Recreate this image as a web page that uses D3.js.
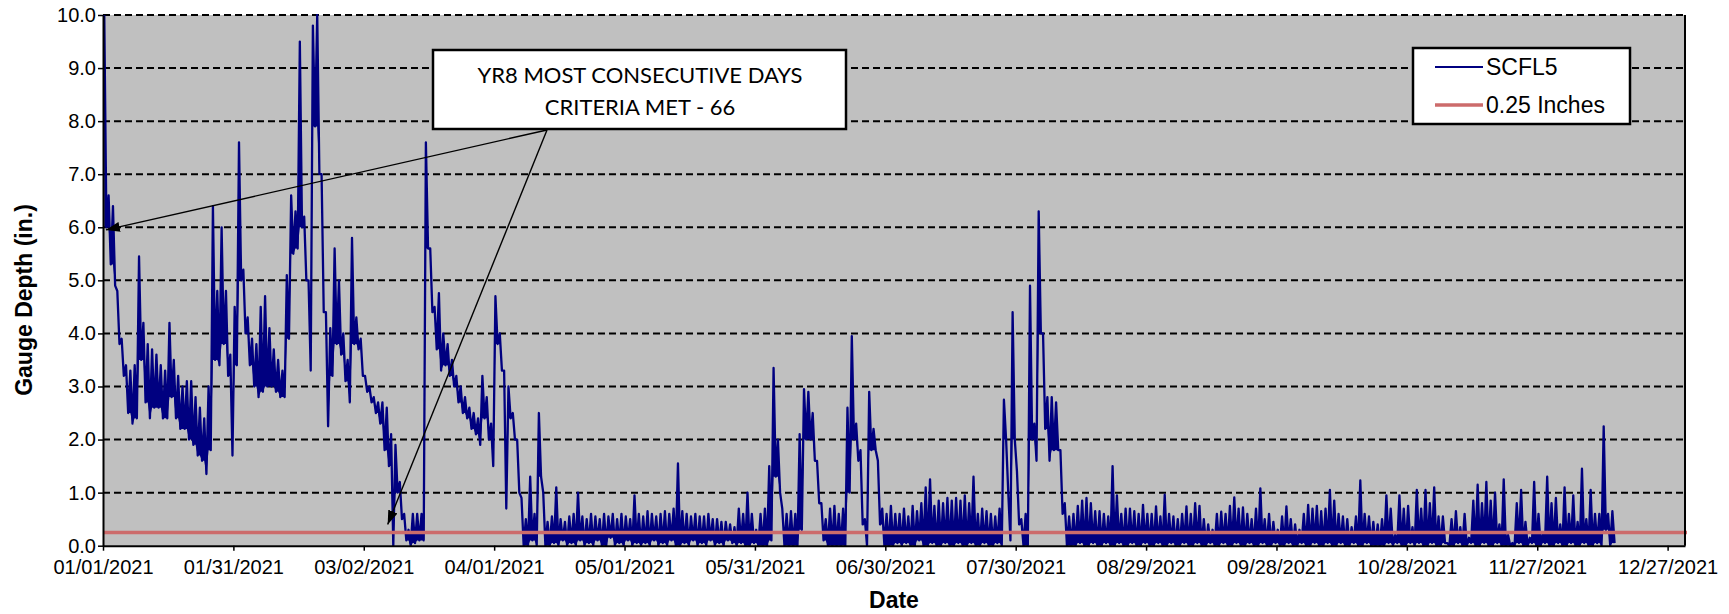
<!DOCTYPE html>
<html>
<head>
<meta charset="utf-8">
<script src="https://cdn.jsdelivr.net/npm/d3@7"></script>
<style>
  body { margin: 0; background: #fff; }
  svg text { font-family: "Liberation Sans", Arial, sans-serif; fill: #000; }
  .axis text { font-size: 20px; }
  .axis line { stroke: #000; stroke-width: 1.5; }
  .axis path { stroke: #000; stroke-width: 2; }
  .grid line { stroke: #000; stroke-width: 2; stroke-dasharray: 7,4; }
  .title { font-size: 23px; font-weight: bold; }
  .callout text { font-family: Lato, "Open Sans", sans-serif; font-size: 22px; }
  .legend text { font-size: 23px; }
</style>
</head>
<body>
<script>
//Chart values
var startDate = "01/01/2021";
var endDate = "12/31/2021";
var xTickLabels = ["01/01/2021", "01/31/2021", "03/02/2021", "04/01/2021", "05/01/2021",
  "05/31/2021", "06/30/2021", "07/30/2021", "08/29/2021", "09/28/2021",
  "10/28/2021", "11/27/2021", "12/27/2021"];
var yTicks = [0, 1, 2, 3, 4, 5, 6, 7, 8, 9, 10];
var seriesNames = ["SCFL5", "0.25 Inches"];
var threshold = 0.25;

//Daily high / low gauge depth (in.), one entry per day from 01/01/2021
var dayHigh = [
  10.0, 6.6, 6.4, 4.8, 3.9, 3.4, 3.3, 3.4, 5.45, 4.2,
  3.8, 3.7, 3.6, 3.4, 3.3, 4.2, 3.5, 3.2, 3.0, 3.1,
  3.1, 2.8, 2.6, 2.4, 3.0, 6.4, 4.8, 6.0, 4.8, 3.6,
  4.5, 7.6, 5.2, 4.3, 3.9, 3.8, 4.5, 4.7, 4.1, 3.7,
  3.5, 3.3, 5.1, 6.6, 6.3, 9.5, 6.2, 5.0, 9.8, 10.0,
  7.0, 4.4, 4.1, 5.6, 5.0, 4.0, 3.5, 5.8, 4.3, 3.9,
  3.2, 3.0, 2.8, 2.7, 2.7, 2.6, 2.1, 1.9, 1.2, 0.6,
  0.3, 0.6, 0.6, 0.6, 7.6, 5.6, 4.5, 4.76, 4.0, 3.8,
  3.5, 3.2, 3.0, 2.8, 2.6, 2.5, 2.4, 3.2, 2.8, 2.3,
  4.7, 4.0, 3.3, 3.0, 2.5, 2.0, 0.9, 0.5, 1.3, 0.6,
  2.5, 1.0, 0.45, 0.55, 1.1, 0.5, 0.45, 0.55, 0.6, 1.0,
  0.55, 0.5, 0.6, 0.55, 0.5, 0.6, 0.55, 0.6, 0.5, 0.6,
  0.55, 0.5, 0.95, 0.6, 0.55, 0.65, 0.6, 0.55, 0.6, 0.65,
  0.6, 0.7, 1.55, 0.65, 0.6, 0.55, 0.6, 0.55, 0.55, 0.6,
  0.5, 0.5, 0.45, 0.45, 0.4, 0.35, 0.7, 0.6, 1.0, 0.6,
  0.3, 0.6, 0.7, 1.5, 3.35, 2.0, 0.7, 0.6, 0.65, 0.6,
  2.1, 2.95, 2.9, 2.5, 1.6, 0.8, 0.5, 0.7, 0.75, 0.6,
  0.7, 2.6, 3.95, 2.3, 1.8, 0.5, 2.9, 2.2, 1.6, 0.7,
  0.6, 0.75, 0.6, 0.6, 0.7, 0.55, 0.75, 0.65, 0.8, 1.1,
  1.25, 0.75, 0.85, 0.8, 0.9, 0.85, 0.9, 0.85, 0.95, 0.8,
  1.3, 0.6, 0.7, 0.65, 0.6, 0.55, 0.7, 2.75, 1.0, 4.4,
  1.4, 0.5, 0.6, 4.9, 2.3, 6.3, 4.0, 2.8, 2.8, 2.7,
  1.8, 0.8, 0.55, 0.6, 0.75, 0.85, 0.9, 0.8, 0.65, 0.65,
  0.6, 0.55, 1.5, 0.95, 0.6, 0.7, 0.7, 0.65, 0.6, 0.77,
  0.6, 0.6, 0.74, 0.55, 0.96, 0.6, 0.55, 0.5, 0.6, 0.74,
  0.6, 0.8, 0.75, 0.5, 0.4, 0.3, 0.6, 0.64, 0.6, 0.75,
  0.91, 0.7, 0.72, 0.6, 0.5, 0.7, 1.08, 0.5, 0.6, 0.45,
  0.3, 0.55, 0.74, 0.5, 0.4, 0.3, 0.6, 0.77, 0.7, 0.75,
  0.65, 0.7, 1.05, 0.85, 0.6, 0.55, 0.5, 0.35, 0.55, 1.23,
  0.6, 0.55, 0.45, 0.4, 0.5, 0.95, 0.7, 0.2, 0.95, 0.7,
  0.75, 0.35, 1.05, 0.7, 1.05, 0.8, 1.1, 0.55, 0.55, 0.05,
  0.5, 0.65, 0.35, 0.6, 0.15, 0.85, 1.15, 0.8, 1.2, 0.85,
  1.0, 0.4, 1.25, 0.2, 0.05, 0.8, 1.05, 0.45, 0.15, 1.2,
  0.6, 0.25, 1.3, 0.8, 0.9, 0.4, 1.1, 0.6, 0.95, 0.45,
  1.45, 0.5, 1.05, 0.6, 0.6, 2.25, 0.6, 0.65
];
var dayLow = [
  6.0, 5.3, 4.9, 3.8, 3.2, 2.5, 2.3, 2.4, 3.5, 2.7,
  2.4, 2.6, 2.6, 2.4, 2.4, 2.8, 2.4, 2.2, 2.2, 2.0,
  1.9, 1.7, 1.6, 1.35, 1.8, 3.5, 3.4, 3.8, 3.2, 1.7,
  3.4, 5.0, 4.0, 3.4, 3.0, 2.8, 2.9, 3.0, 3.0, 2.9,
  2.8, 2.8, 3.9, 5.5, 5.6, 6.0, 5.0, 3.3, 7.9, 7.0,
  4.4, 2.25, 3.2, 3.8, 3.6, 3.1, 2.7, 3.8, 3.7, 3.2,
  2.9, 2.7, 2.5, 2.3, 1.8, 1.5, 0.0, 1.0, 0.5, 0.1,
  0.0, 0.05, 0.1, 0.1, 5.6, 4.4, 3.7, 3.3, 3.4, 3.2,
  3.0, 2.7, 2.5, 2.4, 2.2, 2.1, 1.9, 2.4, 2.0, 1.5,
  3.8, 3.3, 0.7, 2.4, 2.0, 1.0, 0.0, 0.0, 0.1, 0.0,
  1.3, 0.0, 0.0, 0.05, 0.0, 0.1, 0.0, 0.05, 0.0, 0.1,
  0.0, 0.05, 0.0, 0.1, 0.0, 0.0, 0.15, 0.0, 0.05, 0.0,
  0.1, 0.0, 0.05, 0.0, 0.05, 0.0, 0.1, 0.0, 0.05, 0.0,
  0.1, 0.0, 0.0, 0.05, 0.0, 0.1, 0.0, 0.05, 0.0, 0.1,
  0.0, 0.05, 0.0, 0.1, 0.05, 0.0, 0.05, 0.0, 0.0, 0.05,
  0.0, 0.0, 0.0, 0.1, 1.3, 1.0, 0.0, 0.0, 0.0, 0.0,
  0.3, 2.0, 2.0, 1.6, 0.8, 0.1, 0.0, 0.0, 0.0, 0.0,
  0.0, 1.0, 2.0, 1.6, 0.4, 0.0, 1.8, 1.8, 0.4, 0.0,
  0.0, 0.0, 0.05, 0.0, 0.05, 0.0, 0.0, 0.1, 0.0, 0.0,
  0.05, 0.0, 0.0, 0.05, 0.0, 0.0, 0.05, 0.0, 0.0, 0.05,
  0.0, 0.0, 0.05, 0.0, 0.0, 0.05, 0.0, 2.0, 0.1, 2.0,
  0.4, 0.0, 0.0, 2.0, 1.6, 4.0, 2.2, 1.6, 1.8, 1.8,
  0.6, 0.0, 0.0, 0.0, 0.05, 0.0, 0.0, 0.05, 0.0, 0.0,
  0.05, 0.0, 0.0, 0.05, 0.0, 0.0, 0.05, 0.0, 0.0, 0.05,
  0.0, 0.0, 0.05, 0.0, 0.0, 0.05, 0.0, 0.0, 0.05, 0.0,
  0.0, 0.05, 0.0, 0.0, 0.05, 0.0, 0.0, 0.05, 0.0, 0.0,
  0.05, 0.0, 0.0, 0.05, 0.0, 0.0, 0.05, 0.0, 0.0, 0.05,
  0.0, 0.0, 0.05, 0.0, 0.0, 0.05, 0.0, 0.0, 0.05, 0.0,
  0.0, 0.05, 0.0, 0.0, 0.05, 0.0, 0.0, 0.05, 0.0, 0.0,
  0.05, 0.0, 0.0, 0.0, 0.0, 0.05, 0.0, 0.05, 0.0, 0.0,
  0.05, 0.0, 0.05, 0.0, 0.0, 0.05, 0.0, 0.0, 0.05, 0.0,
  0.0, 0.05, 0.0, 0.0, 0.05, 0.0, 0.0, 0.05, 0.0, 0.0,
  0.05, 0.0, 0.0, 0.0, 0.0, 0.05, 0.0, 0.0, 0.05, 0.0,
  0.0, 0.05, 0.0, 0.0, 0.05, 0.0, 0.0, 0.05, 0.0, 0.0,
  0.05, 0.0, 0.0, 0.05, 0.0, 0.3, 0.0, 0.05
];

//Callout text and the [day offset, depth] points its arrows point at
var calloutLines = ["YR8 MOST CONSECUTIVE DAYS", "CRITERIA MET - 66"];
var calloutTargets = [[0.7, 5.95], [65.5, 0.4]];

//Setup SVG size vars
var margin = { top: 15, right: 44, bottom: 68.3, left: 103 },
  width = 1729 - margin.left - margin.right,
  height = 614 - margin.top - margin.bottom;

var parseDate = d3.timeParse("%m/%d/%Y");
var start = parseDate(startDate);

var x = d3.scaleTime()
  .domain([start, parseDate(endDate)])
  .range([0, width]);
var y = d3.scaleLinear()
  .domain([0, 10])
  .range([height, 0]);

//Build the readings: each day goes to its high then its low.
//floor = base of the filled swing under each high
var readings = [];
dayHigh.forEach(function(h, i) {
  var prevLow = i > 0 ? dayLow[i - 1] : dayLow[i];
  readings.push({
    date: d3.timeHour.offset(start, i * 24 + 7),
    value: h,
    floor: Math.min(h, Math.max(prevLow, dayLow[i]))
  });
  readings.push({
    date: d3.timeHour.offset(start, i * 24 + 19),
    value: dayLow[i],
    floor: dayLow[i]
  });
});

var svg = d3.select("body")
  .append("svg")
  .attr("width", 1729)
  .attr("height", 614);

var defs = svg.append("defs");
defs.append("clipPath")
  .attr("id", "plotClip")
  .append("rect")
  .attr("x", 0)
  .attr("y", -1)
  .attr("width", width)
  .attr("height", height + 2);

defs.append("marker")
  .attr("id", "arrowHead")
  .attr("viewBox", "0 0 14 10")
  .attr("refX", 14)
  .attr("refY", 5)
  .attr("markerUnits", "userSpaceOnUse")
  .attr("markerWidth", 14)
  .attr("markerHeight", 10)
  .attr("orient", "auto")
  .append("path")
  .attr("d", "M0,0L14,5L0,10z")
  .attr("fill", "#000");

var plot = svg.append("g")
  .attr("transform", "translate(" + margin.left + "," + margin.top + ")");

//Plot background
plot.append("rect")
  .attr("width", width)
  .attr("height", height)
  .attr("fill", "#c0c0c0");

//Dashed gridlines
plot.append("g")
  .attr("class", "grid")
  .selectAll("line")
  .data(yTicks.filter(function(d) { return d > 0; }))
  .enter()
  .append("line")
  .attr("x1", 0)
  .attr("x2", width)
  .attr("y1", function(d) { return y(d); })
  .attr("y2", function(d) { return y(d); });

//Gauge series: filled swings plus the trace itself
var swing = d3.area()
  .x(function(d) { return x(d.date); })
  .y0(function(d) { return y(d.floor); })
  .y1(function(d) { return y(d.value); });

var line = d3.line()
  .x(function(d) { return x(d.date); })
  .y(function(d) { return y(d.value); });

var series = plot.append("g").attr("clip-path", "url(#plotClip)");

series.append("path")
  .datum(readings)
  .attr("fill", "#000080")
  .attr("d", swing);

series.append("path")
  .datum(readings)
  .attr("fill", "none")
  .attr("stroke", "#000080")
  .attr("stroke-width", 2.3)
  .attr("stroke-linejoin", "round")
  .attr("d", line);

//Threshold line
plot.append("line")
  .attr("x1", 0)
  .attr("x2", width + 2)
  .attr("y1", y(threshold))
  .attr("y2", y(threshold))
  .attr("stroke", "#cc6b6b")
  .attr("stroke-width", 3.5);

//Axes
var xAxis = d3.axisBottom(x)
  .tickValues(xTickLabels.map(parseDate))
  .tickFormat(d3.timeFormat("%m/%d/%Y"))
  .tickSizeInner(5)
  .tickSizeOuter(0)
  .tickPadding(9);
var yAxis = d3.axisLeft(y)
  .tickValues(yTicks)
  .tickFormat(d3.format(".1f"))
  .tickSizeInner(5)
  .tickSizeOuter(0)
  .tickPadding(2);

plot.append("g")
  .attr("class", "x axis")
  .attr("transform", "translate(0," + height + ")")
  .call(xAxis);

plot.append("g")
  .attr("class", "y axis")
  .call(yAxis);

//Right frame edge
plot.append("line")
  .attr("x1", width)
  .attr("x2", width)
  .attr("y1", 0)
  .attr("y2", height)
  .attr("stroke", "#000")
  .attr("stroke-width", 2);

//Axis titles
svg.append("text")
  .attr("class", "title")
  .attr("x", margin.left + width / 2)
  .attr("y", 608)
  .style("text-anchor", "middle")
  .text("Date");

svg.append("text")
  .attr("class", "title")
  .attr("transform", "translate(32,300) rotate(-90)")
  .style("text-anchor", "middle")
  .text("Gauge Depth (in.)");

//Callout arrows and box
var callout = svg.append("g").attr("class", "callout");
var anchor = [547, 130];

callout.selectAll("line")
  .data(calloutTargets)
  .enter()
  .append("line")
  .attr("x1", anchor[0])
  .attr("y1", anchor[1])
  .attr("x2", function(d) {
    return margin.left + x(d3.timeHour.offset(start, d[0] * 24));
  })
  .attr("y2", function(d) { return margin.top + y(d[1]); })
  .attr("stroke", "#000")
  .attr("stroke-width", 1.4)
  .attr("marker-end", "url(#arrowHead)");

callout.append("rect")
  .attr("x", 433)
  .attr("y", 50)
  .attr("width", 413)
  .attr("height", 79)
  .attr("fill", "#fff")
  .attr("stroke", "#000")
  .attr("stroke-width", 2.5);

callout.selectAll("text")
  .data(calloutLines)
  .enter()
  .append("text")
  .attr("x", 640)
  .attr("y", function(d, i) { return 83 + i * 32; })
  .style("text-anchor", "middle")
  .text(function(d) { return d; });

//Legend
var legend = svg.append("g").attr("class", "legend");
legend.append("rect")
  .attr("x", 1413)
  .attr("y", 48)
  .attr("width", 217)
  .attr("height", 76)
  .attr("fill", "#fff")
  .attr("stroke", "#000")
  .attr("stroke-width", 2.5);

var legendItem = legend.selectAll(".legendItem")
  .data(seriesNames)
  .enter()
  .append("g")
  .attr("class", "legendItem")
  .attr("transform", function(d, i) {
    return "translate(1435," + (67 + i * 38) + ")";
  });

legendItem.append("line")
  .attr("x1", 0)
  .attr("x2", 48)
  .attr("stroke", function(d, i) { return i === 0 ? "#000080" : "#cc6b6b"; })
  .attr("stroke-width", function(d, i) { return i === 0 ? 2 : 3.5; });

legendItem.append("text")
  .attr("x", 51)
  .attr("dy", "0.35em")
  .text(function(d) { return d; });
</script>
</body>
</html>
